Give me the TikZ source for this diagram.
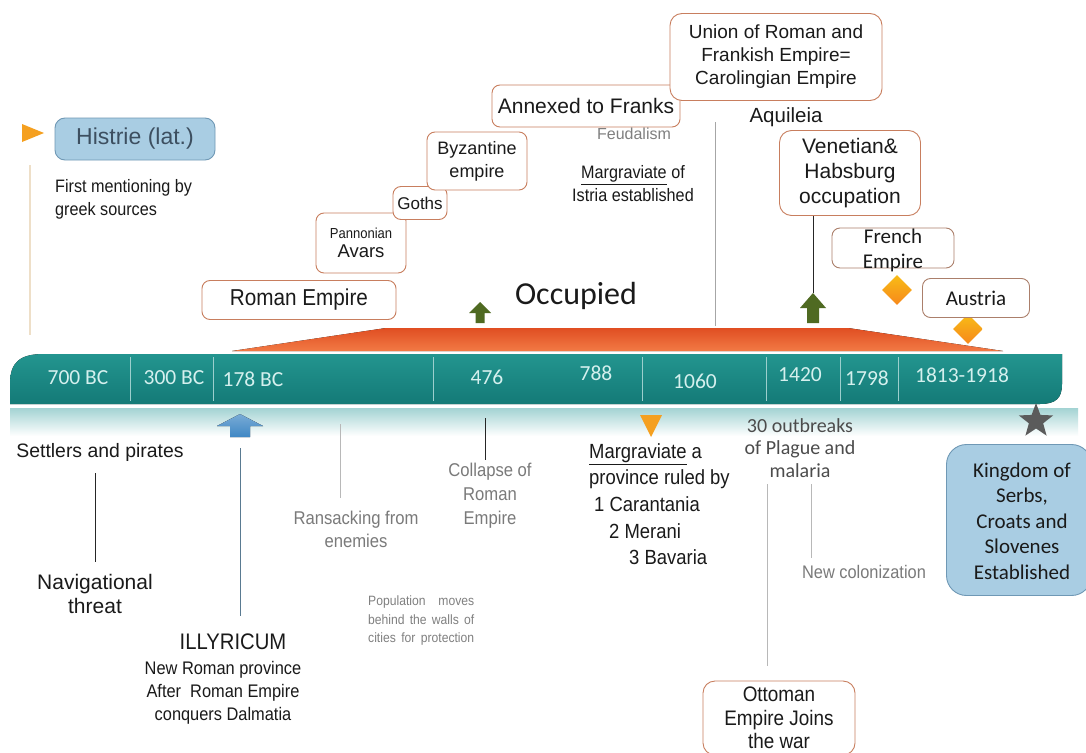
\documentclass[tikz,border=0pt]{standalone}
\usepackage{fontspec}
\setmainfont{Liberation Sans}
\newfontfamily\calib{Carlito}
\newfontfamily\narrowf[FakeStretch=0.9]{Liberation Sans}
\usetikzlibrary{shapes.geometric}
\definecolor{boxbr}{HTML}{C87E5E}
\definecolor{bluefill}{HTML}{A9CDE3}
\definecolor{bluebr}{HTML}{6F98B5}
\definecolor{txtc}{HTML}{1A1A1A}
\definecolor{graytxt}{HTML}{7A7A7A}
\definecolor{yrc}{HTML}{D5F0EE}
\definecolor{teal1}{HTML}{23958F}
\definecolor{teal2}{HTML}{147A77}
\definecolor{occA}{HTML}{E04E22}
\definecolor{occB}{HTML}{F27A45}
\definecolor{stripc}{HTML}{A3D3D3}
\definecolor{grn}{HTML}{4F6A22}
\definecolor{bluea}{HTML}{3F87C4}
\definecolor{orange1}{HTML}{F5A020}
\definecolor{starc}{HTML}{5B5B5B}
\definecolor{tanc}{HTML}{EEDFC8}
\definecolor{histtxt}{HTML}{3D4F60}
\newcommand\myfs[2]{\fontsize{#1}{#2}\selectfont}
\newcommand\spreadline[1]{\makebox[106pt][s]{#1}}
\begin{document}
\begin{tikzpicture}[x=1pt,y=-1pt,
  ebox/.style={draw=boxbr, line width=0.9pt, rounded corners=8pt, fill=white, align=center, inner sep=0pt, text=txtc},
  bbox/.style={draw=bluebr, line width=0.9pt, rounded corners=10pt, fill=bluefill, align=center, inner sep=0pt},
  txt/.style={align=center, inner sep=0pt, text=txtc},
  gtxt/.style={align=center, inner sep=0pt, text=graytxt},
  yr/.style={inner sep=0pt, text=yrc, font=\calib\myfs{21.5}{24}},
  divider/.style={draw=white!55!teal1, line width=0.6pt},
  conn/.style={draw=black!85, line width=0.9pt},
  lconn/.style={draw=black!28, line width=0.7pt},
  dia/.style={diamond, top color=orange1!70!yellow, bottom color=orange1!85!red, minimum size=30pt, inner sep=0pt},
]
\useasboundingbox (0,0) rectangle (1086,752);
\fill[white] (0,0) rectangle (1086,752);

% occupied band
\fill[top color=occA, bottom color=occB] (232,351) -- (386,328) -- (848,328) -- (1003,351) -- cycle;
\node[txt, font=\calib\myfs{32}{34}] (occ) at (576,296) {Occupied};

% timeline bar
\fill[top color=teal1, bottom color=teal2] (10,404) -- (10,384) .. controls (10,362) and (20,354) .. (44,354) -- (1062,354) -- (1062,384) .. controls (1062,398) and (1056,404) .. (1040,404) -- cycle;
\fill[top color=stripc, bottom color=white] (10,408) rectangle (1078,436);
\foreach \x in {130,213,433,642,766,840,898} \draw[divider] (\x,357) -- (\x,401);

\node[yr] (y700) at (78,378) {700 BC};
\node[yr] (y300) at (174,378) {300 BC};
\node[yr] (y178) at (253,379) {178 BC};
\node[yr] (y476) at (487,377) {476};
\node[yr] (y788) at (596,373) {788};
\node[yr] (y1060) at (695,381) {1060};
\node[yr] (y1420) at (800,375) {1420};
\node[yr] (y1798) at (867,378) {1798};
\node[yr] (y1813) at (962,375) {1813-1918};

% markers
\fill[orange1] (22,124) -- (44,133) -- (22,142) -- cycle;
\coordinate (flagA) at (30,165);
\coordinate (flagB) at (30,335);
\draw[draw=tanc, line width=1.2pt] (flagA) -- (flagB);

\fill[grn] (469,313) -- (480,302) -- (491,313) -- (484.5,313) -- (484.5,323) -- (475.5,323) -- (475.5,313) -- cycle;
\fill[grn] (800,308) -- (813,293) -- (826,308) -- (819,308) -- (819,323) -- (807,323) -- (807,308) -- cycle;
\coordinate (garrow) at (813,293);

\fill[top color=bluea!70!white, bottom color=bluea] (217,426) -- (240,414) -- (263,426) -- (250,426) -- (250,437) -- (230,437) -- (230,426) -- cycle;
\fill[orange1] (640,415) -- (662,415) -- (651,437) -- cycle;
\node[star, star points=5, star point ratio=2.4, fill=starc, minimum size=36pt, inner sep=0pt] (star) at (1036,421) {};
\node[dia] (d1) at (897,290) {};
\node[dia] (d2) at (968,329) {};

% top boxes
\node[bbox, minimum width=160pt, minimum height=42pt, text=histtxt, font=\myfs{23}{26}] (hist) at (135,139) {Histrie (lat.)};
\node[txt, align=left, anchor=north west, font=\narrowf\myfs{18}{23}] (first) at (55,179) {First mentioning by\\greek sources};

\node[ebox, minimum width=194pt, minimum height=39pt, font=\narrowf\myfs{23}{26}] (roman) at (299,300) {Roman Empire};
\node[ebox, minimum width=90pt, minimum height=60pt] (pann) at (361,243) {{\narrowf\myfs{14.5}{16}Pannonian}\\[5pt]{\myfs{18.5}{20}Avars}};
\node[ebox, minimum width=54pt, minimum height=33pt, font=\myfs{17}{19}] (goths) at (420,203) {Goths};
\node[ebox, minimum width=100pt, minimum height=58pt, font=\myfs{18}{23}] (byz) at (477,161) {Byzantine\\empire};
\node[ebox, minimum width=188pt, minimum height=42pt, font=\myfs{21}{24}] (annex) at (586,106) {Annexed to Franks};
\node[ebox, minimum width=212pt, minimum height=87pt, rounded corners=12pt, font=\myfs{19}{23}] (union) at (776,57) {Union of Roman and\\Frankish Empire=\\Carolingian Empire};
\node[gtxt, font=\myfs{16}{19}, text=black!50] (feud) at (634,134) {Feudalism};
\node[txt, font=\narrowf\myfs{18}{23}] (marg1) at (633,184) {\underline{Margraviate} of\\Istria established};
\node[txt, font=\myfs{20.5}{23}] (aqui) at (786,117) {Aquileia};
\coordinate (gl1) at (715,122);
\coordinate (gl2) at (715,326);
\draw[draw=black!35, line width=0.7pt] (gl1) -- (gl2);

\node[ebox, minimum width=141pt, minimum height=85pt, rounded corners=12pt, font=\myfs{21}{25}] (ven) at (850,173) {Venetian\&\\Habsburg\\occupation};
\draw[conn] (ven.south -| garrow) -- (garrow);

\node[ebox, draw=boxbr!60!gray, minimum width=122pt, minimum height=40pt] (french) at (893,248) {};
\node[txt, font=\calib\myfs{21}{25}] (frtxt) at (893,250) {French\\Empire};
\node[ebox, draw=boxbr!60!gray, minimum width=107pt, minimum height=39pt, font=\calib\myfs{21}{24}] (aus) at (976,298) {Austria};

% bottom texts
\node[txt, font=\myfs{19.4}{22}] (settl) at (100,452) {Settlers and pirates};
\coordinate (s1) at (95,473);
\coordinate (s2) at (95,562);
\draw[conn] (s1) -- (s2);
\node[txt, font=\myfs{21}{24}] (nav) at (95,594) {Navigational\\threat};

\coordinate (b1) at (240,448);
\coordinate (b2) at (240,616);
\draw[draw=bluebr!80!black, line width=1pt] (b1) -- (b2);
\node[txt, font=\narrowf\myfs{22.5}{25}] (ill) at (233,642) {ILLYRICUM};
\node[txt, font=\narrowf\myfs{18.2}{23}] (illt) at (223,693) {New Roman province\\After\ \ Roman Empire\\conquers Dalmatia};

\coordinate (r1) at (340,424);
\coordinate (r2) at (340,498);
\draw[lconn] (r1) -- (r2);
\node[gtxt, font=\narrowf\myfs{18.5}{23}] (rans) at (356,529) {Ransacking from\\enemies};
\node[gtxt, align=left, anchor=north west, font=\narrowf\myfs{13.5}{18.5}, text=black!50] (pop) at (368,596) {\spreadline{Population moves}\\\spreadline{behind the walls of}\\\spreadline{cities for protection}};

\coordinate (c1) at (485,418);
\coordinate (c2) at (485,460);
\draw[conn] (c1) -- (c2);
\node[gtxt, font=\narrowf\myfs{18.5}{24}] (coll) at (490,496) {Collapse of\\Roman\\Empire};

\node[txt, align=left, anchor=north west, font=\narrowf\myfs{20.5}{26.7}] (marg2) at (589,443) {\underline{Margraviate} a\\province ruled by\\\hspace*{5pt}1 Carantania\\\hspace*{20pt}2 Merani\\\hspace*{40pt}3 Bavaria};

\node[txt, font=\calib\myfs{20}{22.5}, text=black!70] (plague) at (800,448) {30 outbreaks\\of Plague and\\malaria};
\coordinate (o1) at (767,484);
\coordinate (o2) at (767,666);
\draw[lconn] (o1) -- (o2);
\coordinate (n1) at (811,484);
\coordinate (n2) at (811,558);
\draw[lconn] (n1) -- (n2);
\node[gtxt, font=\narrowf\myfs{18.2}{21}] (newc) at (864,572) {New colonization};

\node[ebox, minimum width=152pt, minimum height=74pt, rounded corners=12pt, font=\narrowf\myfs{21}{23.5}] (otto) at (779,718) {Ottoman\\Empire Joins\\the war};

\node[bbox, minimum width=145pt, minimum height=151pt, rounded corners=20pt] (king) at (1019,520) {};
\node[txt, font=\calib\myfs{21}{25.5}] (kingt) at (1022,521) {Kingdom of\\Serbs,\\Croats and\\Slovenes\\Established};
\end{tikzpicture}
\end{document}
